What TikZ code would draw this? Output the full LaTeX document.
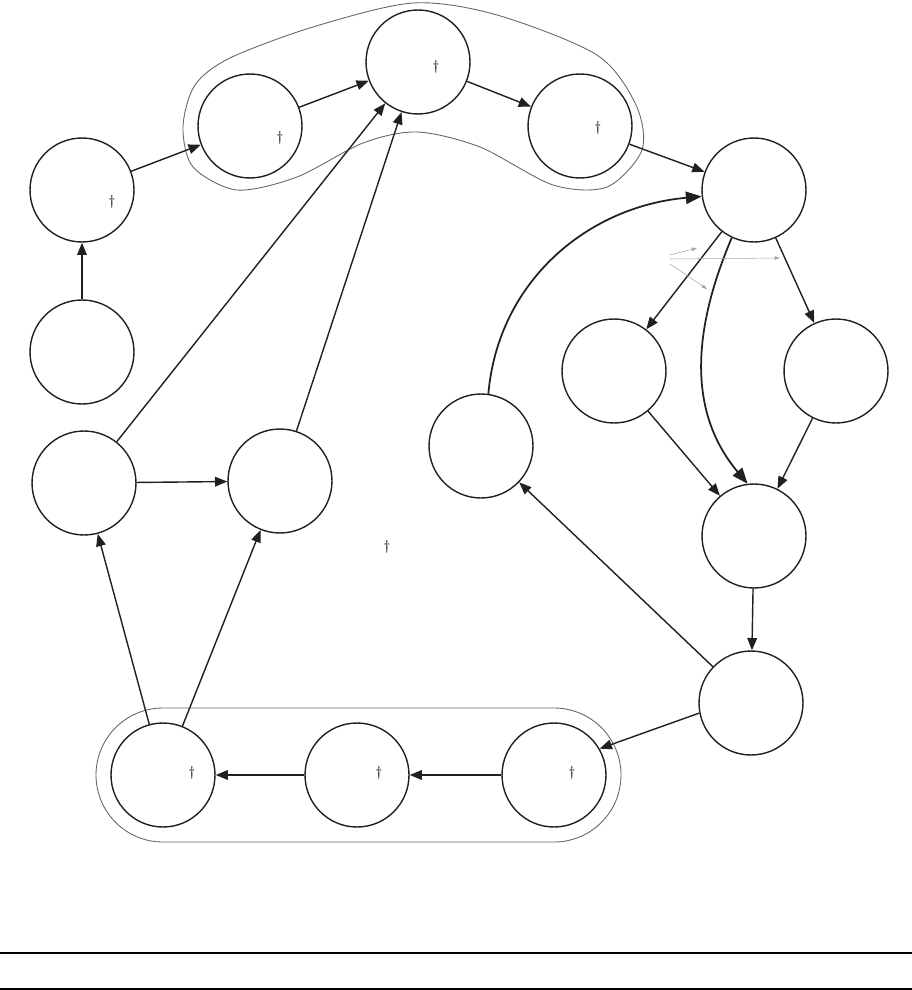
\documentclass[tikz,border=0pt]{standalone}
\usetikzlibrary{arrows.meta}
\definecolor{ink}{HTML}{231F20}
\begin{document}
\begin{tikzpicture}[x=0.02cm, y=-0.02cm,
  state/.style={circle, draw=ink, line width=0.8pt, minimum size=2.08cm, inner sep=0pt},
  dagnode/.style={font=\footnotesize, inner sep=0pt},
  flow/.style={draw=ink, line width=0.8pt, -{Triangle[length=7pt,width=5.5pt]}},
  bigflow/.style={draw=ink, line width=1pt, -{Triangle[length=9pt,width=7pt]}},
  faint/.style={draw=gray!70, line width=0.3pt, -{Triangle[length=3pt,width=2pt]}},
  hull/.style={draw=gray!80!black, line width=0.5pt}]
\useasboundingbox (0,0) rectangle (912,990);
% groups
\draw[hull] plot[smooth cycle] coordinates {(183,127) (195,85) (230,58) (313,27) (413,3) (497,15) (597,55) (636,105) (642,150) (607,187) (553,185) (480,147) (417,132) (363,143) (297,177) (237,190) (193,167)};
\draw[hull, rounded corners=1.34cm] (96,708) rectangle (621,842);
% states
\node[state] (a) at (82,190) {};
\node[state] (b) at (82,352) {};
\node[state] (c) at (250,126) {};
\node[state] (d) at (418,62) {};
\node[state] (e) at (580,126) {};
\node[state] (f) at (754,190) {};
\node[state] (g) at (614,371) {};
\node[state] (h) at (836,371) {};
\node[state] (i) at (754,536) {};
\node[state] (j) at (751,703) {};
\node[state] (k) at (481,446) {};
\node[state] (l) at (84,483) {};
\node[state] (m) at (280,481) {};
\node[state] (n) at (163,775) {};
\node[state] (o) at (357,775) {};
\node[state] (p) at (554,775) {};
% daggers
\node[dagnode] (ta) at (112,202) {\dag};
\node[dagnode] (tc) at (280,138) {\dag};
\node[dagnode] (td) at (436,67) {\dag};
\node[dagnode] (te) at (598,128) {\dag};
\node[dagnode] (tn) at (192,773) {\dag};
\node[dagnode] (to) at (379,773) {\dag};
\node[dagnode] (tp) at (572,773) {\dag};
\node[dagnode] (tx) at (387,547) {\dag};
% edges
\draw[flow] (b) -- (a);
\draw[flow] (a) -- (c);
\draw[flow] (c) -- (d);
\draw[flow] (d) -- (e);
\draw[flow] (e) -- (f);
\draw[flow] (f) -- (g);
\draw[flow] (f) -- (h);
\draw[flow] (g) -- (i);
\draw[flow] (h) -- (i);
\draw[flow] (i) -- (j);
\draw[flow] (j) -- (k);
\draw[flow] (j.191) -- (p.30);
\draw[flow] (p) -- (o);
\draw[flow] (o) -- (n);
\draw[flow] (n) -- (l);
\draw[flow] (n) -- (m);
\draw[flow] (l) -- (m);
\draw[flow] (l) -- (d);
\draw[flow] (m) -- (d);
\draw[bigflow] (f.245) to[out=247, in=130] (i.97);
\draw[bigflow] (k.82) to[out=85, in=185] (f.187);
% stray marks
\coordinate (s1) at (670,255);
\coordinate (s2) at (670,259);
\coordinate (s3) at (670,264);
\coordinate (q1) at (697,248);
\coordinate (q2) at (780,258);
\coordinate (q3) at (707,289);
\draw[faint] (s1) -- (q1);
\draw[faint] (s2) -- (q2);
\draw[faint] (s3) -- (q3);
% rules
\coordinate (r1) at (0,953);
\coordinate (r1e) at (912,953);
\coordinate (r2) at (0,989);
\coordinate (r2e) at (912,989);
\draw[line width=1.1pt] (r1) -- (r1e);
\draw[line width=1.1pt] (r2) -- (r2e);
\end{tikzpicture}
\end{document}
